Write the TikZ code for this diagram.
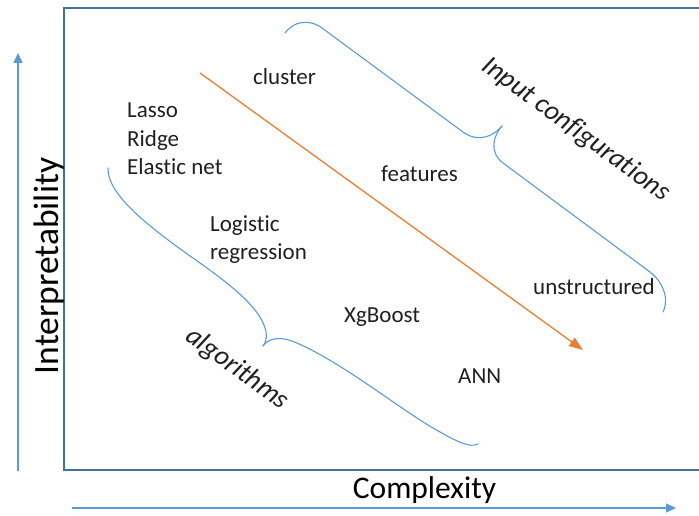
\documentclass[tikz,border=0pt]{standalone}
\usepackage{fontspec}
\setmainfont{Carlito}[Ligatures=NoCommon]
\usetikzlibrary{arrows.meta}
\definecolor{frameblue}{HTML}{41719C}
\definecolor{lightblue}{HTML}{5B9BD5}
\definecolor{orangeline}{HTML}{ED7D31}
\definecolor{txt}{HTML}{202020}
\begin{document}
\begin{tikzpicture}[x=1pt,y=-1pt,
  lbl/.style={anchor=base west, inner sep=0pt, text=txt, font=\fontsize{23}{27}\selectfont},
  bracelbl/.style={inner sep=0pt, text=txt, font=\fontsize{27.5}{33}\selectfont\itshape},
  axislbl/.style={anchor=base, inner sep=0pt, text=black},
  brace/.style={draw=lightblue, line width=1.1pt, line cap=round},
  axisarrow/.style={draw=lightblue, line width=1.4pt, -{Triangle[length=10pt,width=9pt]}},
  trend/.style={draw=orangeline, line width=1.3pt, -{Triangle[length=14pt,width=10pt]}},
]
\useasboundingbox (0,0) rectangle (699,516);
% frame
\draw[frameblue, line width=2.5pt] (699,8) -- (64,8) -- (64,470) -- (699,470);
% axes
\coordinate (ybot) at (18,471);
\coordinate (ytop) at (18,53);
\coordinate (xleft) at (72,508);
\coordinate (xright) at (676,508);
\draw[axisarrow] (ybot) -- (ytop);
\draw[axisarrow] (xleft) -- (xright);
\node[axislbl, rotate=90, font=\fontsize{35.5}{42}\selectfont] (interp) at (58,266) {Interpretability};
\node[axislbl, font=\fontsize{31.5}{37}\selectfont] (compl) at (424.5,498) {Complexity};
% orange trend arrow
\coordinate (os) at (200,73);
\coordinate (oe) at (583,350);
\draw[trend] (os) -- (oe);
% upper brace (input configurations)
\draw[brace] (285,33) .. controls (293,22) and (308,18) .. (322,28) -- (463,132)
  .. controls (472,139) and (488,142) .. (502,126);
\draw[brace] (502,126) .. controls (493,136) and (489,152) .. (503,163) -- (650,272)
  .. controls (662,281) and (670,298) .. (663,312);
% lower brace (algorithms)
\draw[brace] (108,168) .. controls (107,195) and (150,228) .. (200,263)
  .. controls (235,288) and (262,310) .. (266,332)
  .. controls (267,338) and (266,342) .. (263,346);
\draw[brace] (263,346) .. controls (268,339) and (278,336) .. (292,341)
  .. controls (340,360) and (400,410) .. (440,432)
  .. controls (458,442) and (470,448) .. (478,444);
% labels
\node[lbl] (lasso) at (127,118) {Lasso};
\node[lbl] (ridge) at (127,147) {Ridge};
\node[lbl] (enet) at (127,175) {Elastic net};
\node[lbl] (cluster) at (253,85) {cluster};
\node[lbl] (logi) at (210,231) {Logistic};
\node[lbl] (regr) at (210,259) {regression};
\node[lbl] (feat) at (381,182) {features};
\node[lbl] (unstr) at (533,294) {unstructured};
\node[lbl] (xgb) at (344,322) {XgBoost};
\node[lbl] (ann) at (458,383) {ANN};
\node[bracelbl, rotate=-36] (inconf) at (576,130) {Input configurations};
\node[bracelbl, rotate=-36] (algo) at (237,369) {algorithms};
\end{tikzpicture}
\end{document}
